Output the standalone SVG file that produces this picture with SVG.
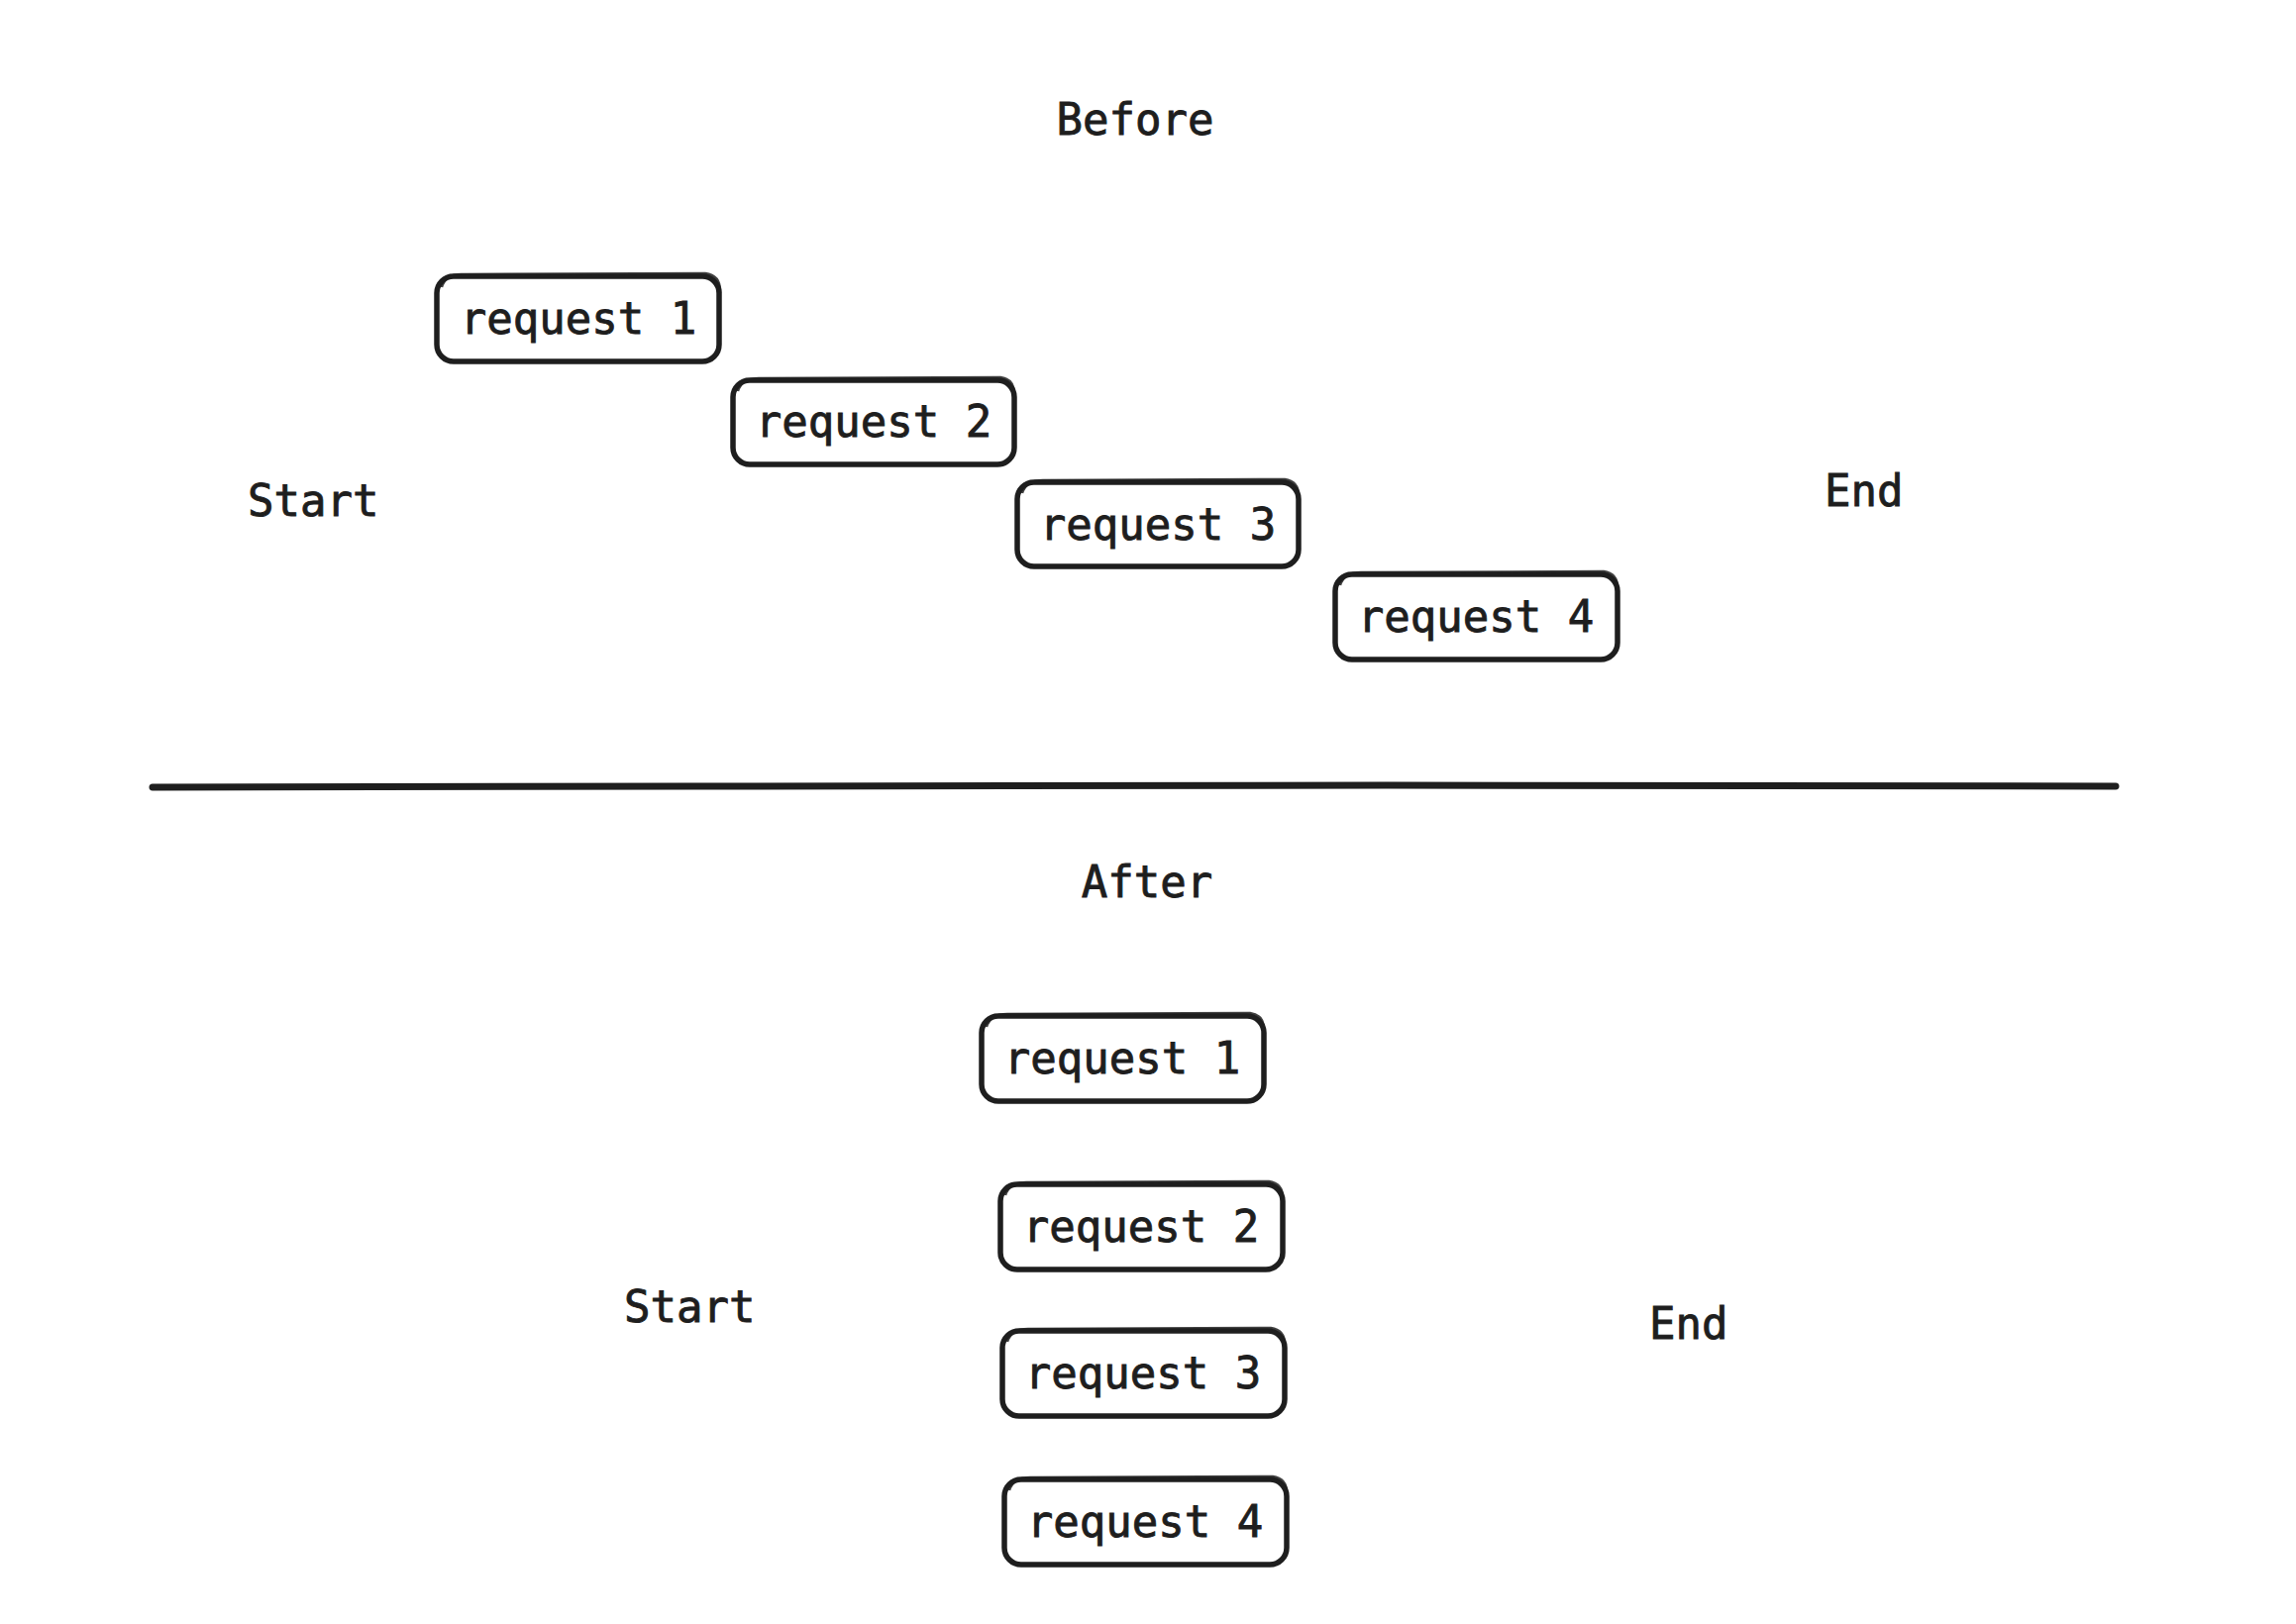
<svg xmlns="http://www.w3.org/2000/svg" width="2318" height="1640" viewBox="0 0 2318 1640">
<style>
.t{font-family:"DejaVu Sans Mono","Liberation Mono",monospace;font-size:44px;fill:#1e1e1e;stroke:#1e1e1e;stroke-width:0.9}
.c{text-anchor:middle}
.b{fill:#fff;stroke:#1e1e1e;stroke-width:5.5;stroke-linejoin:round}
.s{fill:none;stroke:#1e1e1e;stroke-width:2.5;opacity:0.85}
</style>
<rect width="2318" height="1640" fill="#fff"/>
<g id="labels">
<text class="t c" x="1146" y="136">Before</text>
<text class="t" x="250" y="521">Start</text>
<text class="t" x="1842" y="511">End</text>
<text class="t c" x="1158" y="906">After</text>
<text class="t" x="630" y="1335">Start</text>
<text class="t" x="1665" y="1352">End</text>
</g>
<g id="connectors">
<path d="M154 795 L700 794 L1400 793 L2136 794" fill="none" stroke="#1e1e1e" stroke-width="7" stroke-linecap="round"/>
</g>
<g id="before-request-1">
<rect class="b" x="441" y="279" width="285" height="86" rx="17"/>
<path class="s" d="M446 290 Q450 276 468 277 L712 276 Q728 278 727 296"/>
<text class="t c" x="584" y="337">request 1</text>
</g>
<g id="before-request-2">
<rect class="b" x="740" y="384" width="284" height="85" rx="17"/>
<path class="s" d="M745 395 Q749 382 766 382 L1010 381 Q1025 383 1024 400"/>
<text class="t c" x="882" y="441">request 2</text>
</g>
<g id="before-request-3">
<rect class="b" x="1027" y="487" width="284" height="85" rx="17"/>
<path class="s" d="M1032 498 Q1036 485 1053 485 L1297 484 Q1312 486 1311 503"/>
<text class="t c" x="1169" y="545">request 3</text>
</g>
<g id="before-request-4">
<rect class="b" x="1348" y="580" width="285" height="86" rx="17"/>
<path class="s" d="M1353 591 Q1357 578 1374 578 L1619 577 Q1634 579 1633 596"/>
<text class="t c" x="1490" y="638">request 4</text>
</g>
<g id="after-request-1">
<rect class="b" x="991" y="1026" width="285" height="86" rx="17"/>
<path class="s" d="M996 1037 Q1000 1024 1017 1024 L1262 1023 Q1277 1025 1276 1042"/>
<text class="t c" x="1133" y="1084">request 1</text>
</g>
<g id="after-request-2">
<rect class="b" x="1010" y="1196" width="285" height="86" rx="17"/>
<path class="s" d="M1015 1207 Q1019 1194 1036 1194 L1281 1193 Q1296 1195 1295 1212"/>
<text class="t c" x="1152" y="1254">request 2</text>
</g>
<g id="after-request-3">
<rect class="b" x="1012" y="1344" width="285" height="86" rx="17"/>
<path class="s" d="M1017 1355 Q1021 1342 1038 1342 L1283 1341 Q1298 1343 1297 1360"/>
<text class="t c" x="1154" y="1402">request 3</text>
</g>
<g id="after-request-4">
<rect class="b" x="1014" y="1494" width="285" height="86" rx="17"/>
<path class="s" d="M1019 1505 Q1023 1492 1040 1492 L1285 1491 Q1300 1493 1299 1510"/>
<text class="t c" x="1156" y="1552">request 4</text>
</g>
</svg>
